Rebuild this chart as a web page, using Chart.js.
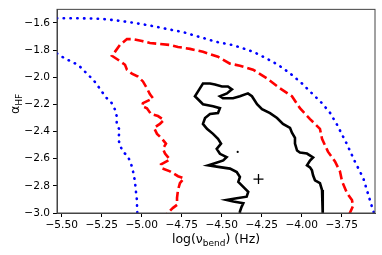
<!DOCTYPE html>
<html>
<head>
<meta charset="utf-8">
<script src="https://cdn.jsdelivr.net/npm/chart.js@4/dist/chart.umd.min.js"></script>
<style>
  html, body { margin: 0; padding: 0; background: #fff; }
  #wrap { width: 382px; height: 255px; }
</style>
</head>
<body>
<div id="wrap"><canvas id="contourChart" width="382" height="255"></canvas></div>
<script>
// contour lines (x = log bend frequency, y = alpha_HF)
const blackX = [-4.386, -4.386, -4.375, -4.365, -4.427, -4.469, -4.406, -4.344, -4.334, -4.365, -4.396, -4.386, -4.406, -4.448, -4.511, -4.584, -4.552, -4.49, -4.469, -4.511, -4.531, -4.504, -4.523, -4.554, -4.592, -4.617, -4.604, -4.573, -4.523, -4.511, -4.554, -4.617, -4.648, -4.667, -4.636, -4.617, -4.573, -4.542, -4.498, -4.461, -4.436, -4.467, -4.511, -4.492, -4.429, -4.386, -4.336, -4.311, -4.279, -4.248, -4.198, -4.154, -4.117, -4.073, -4.061, -4.042, -4.042, -4.029, -4.011, -3.967, -3.929, -3.948, -3.967, -3.948, -3.936, -3.929, -3.917, -3.886, -3.873, -3.873, -3.867, -3.867, -3.867];
const blackY = [-3.013, -2.989, -2.953, -2.928, -2.916, -2.904, -2.892, -2.88, -2.844, -2.807, -2.771, -2.735, -2.698, -2.673, -2.662, -2.649, -2.637, -2.613, -2.589, -2.564, -2.528, -2.489, -2.453, -2.417, -2.38, -2.344, -2.3, -2.271, -2.264, -2.228, -2.213, -2.199, -2.162, -2.14, -2.082, -2.046, -2.046, -2.053, -2.068, -2.068, -2.089, -2.119, -2.14, -2.155, -2.155, -2.14, -2.119, -2.14, -2.199, -2.235, -2.264, -2.3, -2.344, -2.373, -2.409, -2.446, -2.489, -2.54, -2.555, -2.562, -2.591, -2.613, -2.649, -2.664, -2.686, -2.722, -2.759, -2.78, -2.831, -2.889, -2.926, -2.977, -3.013];

const redX = [-3.704, -3.679, -3.686, -3.717, -3.748, -3.761, -3.792, -3.836, -3.873, -3.886, -3.948, -4.011, -4.061, -4.136, -4.217, -4.304, -4.386, -4.448, -4.523, -4.617, -4.698, -4.773, -4.823, -4.886, -4.948, -4.998, -5.054, -5.092, -5.136, -5.167, -5.186, -5.148, -5.104, -5.092, -5.061, -5.023, -4.992, -4.967, -4.948, -4.929, -4.992, -4.998, -4.967, -4.942, -4.898, -4.861, -4.886, -4.923, -4.904, -4.873, -4.848, -4.867, -4.854, -4.823, -4.879, -4.873, -4.823, -4.773, -4.736, -4.761, -4.773, -4.779, -4.779, -4.804, -4.836, -4.848];
const redY = [-3.013, -2.948, -2.904, -2.853, -2.766, -2.693, -2.62, -2.548, -2.453, -2.38, -2.308, -2.228, -2.14, -2.082, -2.009, -1.944, -1.915, -1.9, -1.849, -1.813, -1.791, -1.777, -1.762, -1.755, -1.748, -1.733, -1.719, -1.719, -1.762, -1.813, -1.842, -1.871, -1.908, -1.944, -1.973, -1.995, -2.031, -2.082, -2.126, -2.155, -2.191, -2.213, -2.228, -2.271, -2.286, -2.315, -2.344, -2.373, -2.417, -2.453, -2.489, -2.526, -2.562, -2.606, -2.642, -2.671, -2.693, -2.729, -2.744, -2.78, -2.831, -2.889, -2.94, -2.962, -2.999, -3.013];

const blueTopX = [-5.53, -5.386, -5.261, -5.167, -5.073, -4.948, -4.844, -4.74, -4.636, -4.531, -4.427, -4.344, -4.302, -4.219, -4.146, -4.073, -4.0, -3.938, -3.875, -3.823, -3.781, -3.719, -3.667, -3.615, -3.584, -3.553, -3.542];
const blueTopY = [-1.566, -1.566, -1.569, -1.58, -1.595, -1.619, -1.644, -1.668, -1.704, -1.74, -1.764, -1.796, -1.813, -1.862, -1.91, -1.971, -2.044, -2.116, -2.189, -2.262, -2.346, -2.489, -2.623, -2.744, -2.865, -2.986, -3.013];

const blueLeftX = [-5.53, -5.479, -5.437, -5.396, -5.365, -5.334, -5.302, -5.271, -5.25, -5.219, -5.188, -5.167, -5.156, -5.156, -5.136, -5.146, -5.136, -5.115, -5.084, -5.073, -5.061, -5.054, -5.042, -5.036, -5.029, -5.029, -5.026];
const blueLeftY = [-1.825, -1.862, -1.886, -1.91, -1.946, -1.983, -2.019, -2.068, -2.104, -2.153, -2.189, -2.237, -2.286, -2.346, -2.393, -2.448, -2.502, -2.55, -2.586, -2.623, -2.657, -2.693, -2.766, -2.839, -2.911, -2.977, -3.013];

const bestFit = [-4.27, -2.75];
const dotPoint = [-4.40, -2.55];

const xTicks = [-5.5, -5.25, -5.0, -4.75, -4.5, -4.25, -4.0, -3.75];
const yTicks = [-3.0, -2.8, -2.6, -2.4, -2.2, -2.0, -1.8, -1.6];

const zip = (xs, ys) => xs.map((x, i) => ({ x: x, y: ys[i] }));
const minus = (s) => s.replace('-', '\u2212');
const tickFont = { family: 'DejaVu Sans', size: 10.6 };

function lineSet(xs, ys, color, dash, cap) {
    return {
        data: zip(xs, ys),
        showLine: true,
        borderColor: color,
        borderWidth: 2.6,
        borderDash: dash,
        borderCapStyle: cap || 'butt',
        pointRadius: 0,
        tension: 0,
        clip: 0,
    };
}

// box around the plot + axis titles with subscripts
const framePlugin = {
    id: 'frame',
    afterDraw(chart) {
        const { ctx, chartArea: a } = chart;
        ctx.save();
        ctx.strokeStyle = '#444';
        ctx.lineWidth = 1;
        ctx.strokeRect(a.left, a.top, a.right - a.left, a.bottom - a.top);

        ctx.fillStyle = '#000';
        ctx.textBaseline = 'alphabetic';
        const big = '12.5px "DejaVu Sans"';
        const small = '9px "DejaVu Sans"';

        // x title
        const parts = [['log(\u03bd', big, 0], ['bend', small, 3], [') (Hz)', big, 0]];
        let w = 0;
        parts.forEach((p) => { ctx.font = p[1]; w += ctx.measureText(p[0]).width; });
        let x = (a.left + a.right) / 2 - w / 2;
        parts.forEach((p) => {
            ctx.font = p[1];
            ctx.fillText(p[0], x, 243 + p[2]);
            x += ctx.measureText(p[0]).width;
        });

        // y title
        ctx.translate(19, 104);
        ctx.rotate(-Math.PI / 2);
        const yparts = [['\u03b1', big, 0], ['HF', small, 3]];
        w = 0;
        yparts.forEach((p) => { ctx.font = p[1]; w += ctx.measureText(p[0]).width; });
        x = -w / 2;
        yparts.forEach((p) => {
            ctx.font = p[1];
            ctx.fillText(p[0], x, p[2]);
            x += ctx.measureText(p[0]).width;
        });
        ctx.restore();
    },
};

new Chart(document.getElementById('contourChart'), {
    type: 'scatter',
    data: {
        datasets: [
            lineSet(blackX, blackY, '#000000', []),
            lineSet(redX, redY, '#ff0000', [9, 4]),
            lineSet(blueTopX, blueTopY, '#0000ff', [0.4, 6.4], 'round'),
            lineSet(blueLeftX, blueLeftY, '#0000ff', [0.4, 6.4], 'round'),
            {
                data: [{ x: bestFit[0], y: bestFit[1] }],
                pointStyle: 'cross',
                pointRadius: 5,
                borderColor: '#000',
                borderWidth: 1.3,
            },
            {
                data: [{ x: dotPoint[0], y: dotPoint[1] }],
                pointRadius: 1.1,
                backgroundColor: '#000',
                borderWidth: 0,
            },
        ],
    },
    options: {
        responsive: false,
        animation: false,
        devicePixelRatio: 1,
        layout: { padding: { top: 7, right: 7, left: 0, bottom: 0 } },
        plugins: {
            legend: { display: false },
            tooltip: { enabled: false },
        },
        scales: {
            x: {
                type: 'linear',
                min: -5.529,
                max: -3.542,
                afterBuildTicks: (scale) => { scale.ticks = xTicks.map((v) => ({ value: v })); },
                afterFit: (scale) => { scale.height = 42; },
                ticks: {
                    color: '#000',
                    font: tickFont,
                    padding: 2,
                    maxRotation: 0,
                    autoSkip: false,
                    callback: (v) => minus(Number(v).toFixed(2)),
                },
                grid: { drawOnChartArea: false, tickLength: 4, color: '#000' },
                border: { color: '#444' },
            },
            y: {
                type: 'linear',
                min: -3.0,
                max: -1.5,
                afterBuildTicks: (scale) => { scale.ticks = yTicks.map((v) => ({ value: v })); },
                afterFit: (scale) => { scale.width = 57; },
                ticks: {
                    color: '#000',
                    font: tickFont,
                    padding: 3,
                    autoSkip: false,
                    callback: (v) => minus(Number(v).toFixed(1)),
                },
                grid: { drawOnChartArea: false, tickLength: 4, color: '#000' },
                border: { color: '#444' },
            },
        },
    },
    plugins: [framePlugin],
});
</script>
</body>
</html>
